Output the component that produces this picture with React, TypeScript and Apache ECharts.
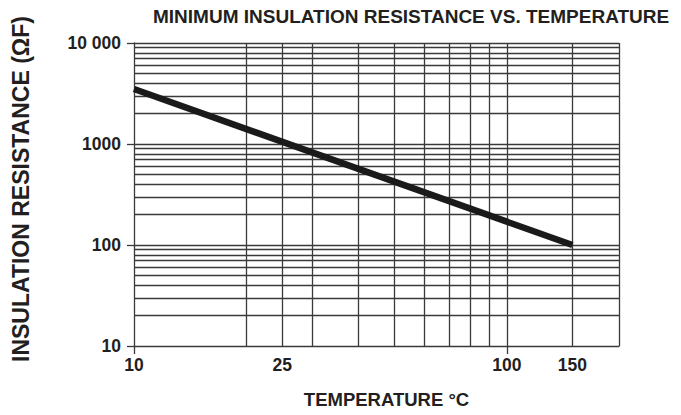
import React, { useEffect, useRef } from "react";
import * as echarts from "echarts";

// Curve: minimum insulation resistance (ΩF) vs temperature (°C)
const curveTemperatures = [10, 150];
const curveResistances = [3500, 100];

// Axis ranges
const tempRange = [10, 200];
const resistanceRange = [10, 10000];

// Tick labels / ticks
const tempLabelValues = [10, 25, 100, 150];
const tempTickValues = [10, 100];
const resistanceLabelValues = [10, 100, 1000, 10000];

// Grid lines
const tempGridValues = [20, 25, 30, 40, 50, 60, 70, 80, 90, 100, 150, 200];
const resistanceGridValues = [
  20, 30, 40, 50, 60, 70, 80, 90, 100,
  200, 300, 400, 500, 600, 700, 800, 900, 1000,
  2000, 3000, 4000, 5000, 6000, 7000, 8000, 9000, 10000,
];

const titleText = "MINIMUM INSULATION RESISTANCE VS. TEMPERATURE";
const xName = "TEMPERATURE °C";
const yName = "INSULATION RESISTANCE (ΩF)";

const FONT = "'Liberation Sans', Arial, Helvetica, sans-serif";
const INK = "#231f20";
const GRID = "#3a3a3a";

export default function App() {
  const ref = useRef<HTMLDivElement>(null);

  useEffect(() => {
    if (!ref.current) return;
    const chart = echarts.init(ref.current, null, { renderer: "svg" });
    const points = curveTemperatures.map((t, i) => [t, curveResistances[i]]);

    chart.setOption({
      animation: false,
      backgroundColor: "#ffffff",
      title: {
        text: titleText,
        left: 148,
        top: 2,
        textStyle: { fontFamily: FONT, fontWeight: "bold", fontSize: 19, color: INK },
      },
      graphic: [
        {
          type: "text",
          x: 21,
          y: 189,
          rotation: Math.PI / 2,
          silent: true,
          style: {
            text: yName,
            fill: INK,
            font: `bold 23px ${FONT}`,
            align: "center",
            verticalAlign: "middle",
          },
        },
      ],
      grid: {
        left: 134,
        top: 43,
        width: 485,
        height: 303,
        containLabel: false,
        outerBoundsMode: "none",
      },
      xAxis: {
        type: "log",
        logBase: 10,
        min: tempRange[0],
        max: tempRange[1],
        name: xName,
        nameLocation: "middle",
        nameGap: 44,
        nameTextStyle: {
          fontFamily: FONT,
          fontWeight: "bold",
          fontSize: 18.5,
          color: INK,
          padding: [0, 0, 0, 20],
        },
        axisLine: { show: true, lineStyle: { color: GRID, width: 1.3 } },
        axisTick: {
          show: true,
          length: 8,
          inside: false,
          customValues: tempTickValues,
          lineStyle: { color: GRID, width: 1.3 },
        },
        axisLabel: {
          show: true,
          customValues: tempLabelValues,
          margin: 10,
          fontFamily: FONT,
          fontWeight: "bold",
          fontSize: 17.5,
          color: INK,
          formatter: (v: number) => String(Math.round(v)),
        },
        splitLine: { show: false },
        minorTick: { show: false },
        minorSplitLine: { show: false },
      },
      yAxis: {
        type: "log",
        logBase: 10,
        min: resistanceRange[0],
        max: resistanceRange[1],
        axisLine: { show: true, lineStyle: { color: GRID, width: 1.3 } },
        axisTick: {
          show: true,
          length: 7,
          inside: false,
          customValues: resistanceLabelValues,
          lineStyle: { color: GRID, width: 1.3 },
        },
        axisLabel: {
          show: true,
          customValues: resistanceLabelValues,
          margin: 13,
          fontFamily: FONT,
          fontWeight: "bold",
          fontSize: 17.5,
          color: INK,
          formatter: (v: number) => (Math.round(v) === 10000 ? "10 000" : String(Math.round(v))),
        },
        splitLine: { show: false },
      },
      series: [
        {
          type: "line",
          z: 1,
          data: points,
          showSymbol: false,
          silent: true,
          lineStyle: { opacity: 0, width: 0 },
          markLine: {
            silent: true,
            symbol: "none",
            animation: false,
            label: { show: false },
            lineStyle: { color: GRID, width: 1.3, type: "solid" },
            data: [
              ...tempGridValues.map((v) => ({ xAxis: v })),
              ...resistanceGridValues.map((v) => ({ yAxis: v })),
            ],
          },
        },
        {
          type: "line",
          z: 5,
          data: points,
          showSymbol: false,
          silent: true,
          lineStyle: { color: "#1a1a1a", width: 6.5, cap: "butt" },
        },
      ],
    });

    return () => chart.dispose();
  }, []);

  return (
    <div
      ref={ref}
      style={{ position: "fixed", left: 0, top: 0, width: 681, height: 415 }}
    />
  );
}
